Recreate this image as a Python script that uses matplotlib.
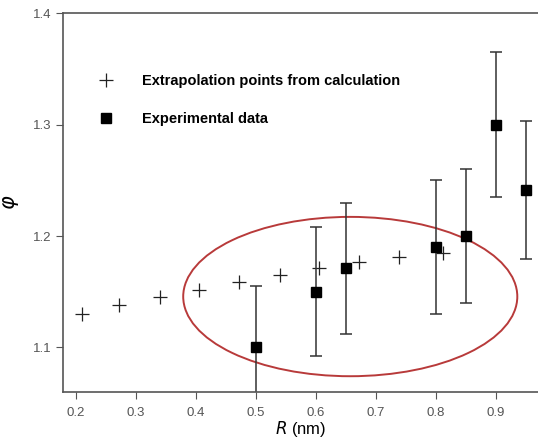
import matplotlib
matplotlib.use('Agg')
import matplotlib.pyplot as plt
from matplotlib.patches import Ellipse
from matplotlib.lines import Line2D

plt.rcParams['font.family'] = ['Liberation Sans', 'DejaVu Sans']

# extrapolation points from calculation
calc_r = [0.21, 0.272, 0.34, 0.405, 0.472, 0.54, 0.605, 0.672, 0.738, 0.812]
calc_phi = [1.130, 1.138, 1.145, 1.152, 1.159, 1.165, 1.171, 1.177, 1.181, 1.185]

# experimental data with error bars
exp_r = [0.50, 0.60, 0.65, 0.80, 0.85, 0.90, 0.95]
exp_phi = [1.100, 1.150, 1.171, 1.190, 1.200, 1.300, 1.241]
exp_err = [0.055, 0.058, 0.059, 0.060, 0.060, 0.065, 0.062]

x_ticks = [0.2, 0.3, 0.4, 0.5, 0.6, 0.7, 0.8, 0.9]
y_ticks = [1.1, 1.2, 1.3, 1.4]

fig = plt.figure(figsize=(5.38, 4.4), dpi=100)
ax = fig.add_axes([0.117, 0.109, 0.883, 0.861])

ax.plot(calc_r, calc_phi, linestyle='none', marker='+', markersize=10,
        markeredgewidth=0.9, color='#222222')
ax.errorbar(exp_r, exp_phi, yerr=exp_err, fmt='s', color='black',
            markersize=6.5, ecolor='#333333', elinewidth=1.1, capsize=4,
            capthick=1.1)

ax.add_patch(Ellipse((0.657, 1.1457), 0.557, 0.143, fill=False,
                     edgecolor='#b83a3a', linewidth=1.4))

ax.set_xlim(0.178, 0.97)
ax.set_ylim(1.06, 1.4)
ax.set_xticks(x_ticks)
ax.set_yticks(y_ticks)
ax.spines['right'].set_visible(False)
for s in ['left', 'bottom', 'top']:
    ax.spines[s].set_color('#555555')
    ax.spines[s].set_linewidth(1.2)
ax.tick_params(direction='out', length=5, color='#555555',
               labelcolor='#555555', labelsize=9.5)
ax.tick_params(axis='x', pad=6)

ax.set_xlabel(r'$\it{R}$ (nm)', fontsize=12, labelpad=0)
ax.set_ylabel(r'$\varphi$', fontsize=15, labelpad=8)

handles = [
    Line2D([], [], linestyle='none', marker='+', markersize=10,
           markeredgewidth=0.9, color='#222222'),
    Line2D([], [], linestyle='none', marker='s', markersize=6.5, color='black'),
]
labels = ['Extrapolation points from calculation', 'Experimental data']
ax.legend(handles, labels, loc='upper left', bbox_to_anchor=(0.04, 0.875),
          frameon=False, prop={'weight': 'bold', 'size': 10.5}, labelspacing=1.7,
          handlelength=1.5, handletextpad=1.7, numpoints=1)

fig.savefig('out.png', dpi=100)
